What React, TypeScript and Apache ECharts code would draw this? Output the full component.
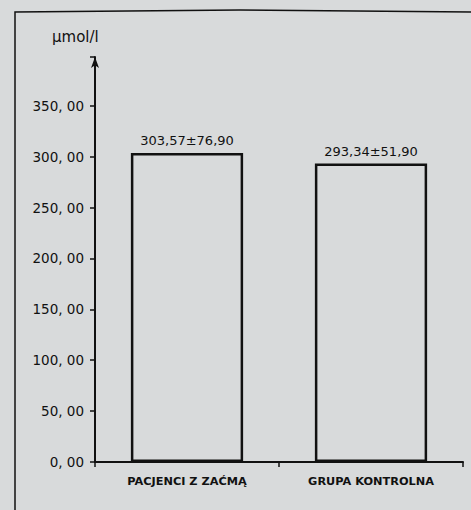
import React, { useEffect, useRef } from "react";
import * as echarts from "echarts";

const categories = ["PACJENCI Z ZAĆMĄ", "GRUPA KONTROLNA"];
const means = [303.57, 293.34];
const barLabels = ["303,57±76,90", "293,34±51,90"];
const yTicks = [0, 50, 100, 150, 200, 250, 300, 350];
const unitLabel = "µmol/l";

export default function App() {
  const ref = useRef<HTMLDivElement>(null);
  useEffect(() => {
    if (!ref.current) return;
    const chart = echarts.init(ref.current, null, { renderer: "svg" });
    const font = "'DejaVu Sans', 'Liberation Sans', sans-serif";
    chart.setOption({
      animation: false,
      backgroundColor: "#d8dadb",
      grid: { left: 95, right: 8, top: 57, bottom: 48, containLabel: false },
      xAxis: {
        type: "category",
        data: categories,
        axisLine: { show: true, lineStyle: { color: "#111", width: 2 } },
        axisTick: { show: true, alignWithLabel: false, length: 5, lineStyle: { color: "#111", width: 1.5 } },
        axisLabel: {
          color: "#111",
          fontFamily: font,
          fontWeight: "bold",
          fontSize: 11.3,
          margin: 14,
        },
      },
      yAxis: {
        type: "value",
        min: 0,
        max: 398,
        interval: 50,
        axisLine: {
          show: true,
          symbol: ["none", "arrow"],
          symbolSize: [6, 11],
          lineStyle: { color: "#111", width: 2 },
        },
        axisTick: { show: true, length: 5, lineStyle: { color: "#111", width: 1.5 } },
        splitLine: { show: false },
        axisLabel: {
          color: "#111",
          fontFamily: font,
          fontSize: 13.5,
          margin: 11,
          formatter: (v: number) =>
            yTicks.includes(v) ? v.toFixed(2).replace(".", ", ") : "",
        },
      },
      series: [
        {
          type: "bar",
          data: means,
          barWidth: "61%",
          itemStyle: { color: "rgba(0,0,0,0)", borderColor: "#111", borderWidth: 2.5 },
          label: {
            show: true,
            position: "top",
            distance: 6,
            color: "#111",
            fontFamily: font,
            fontSize: 13,
            formatter: (p: any) => barLabels[p.dataIndex],
          },
        },
      ],
      graphic: [
        {
          type: "polyline",
          shape: { points: [[15, 510], [15, 12], [240, 10], [471, 12]] },
          style: { stroke: "#111", lineWidth: 1.5, fill: "none" },
        },
        {
          type: "text",
          left: 52,
          top: 29,
          style: { text: unitLabel, fill: "#111", font: `15px ${font}` },
        },
      ],
    });
    return () => chart.dispose();
  }, []);
  return <div ref={ref} style={{ width: 471, height: 510, position: "absolute", left: 0, top: 0 }} />;
}
